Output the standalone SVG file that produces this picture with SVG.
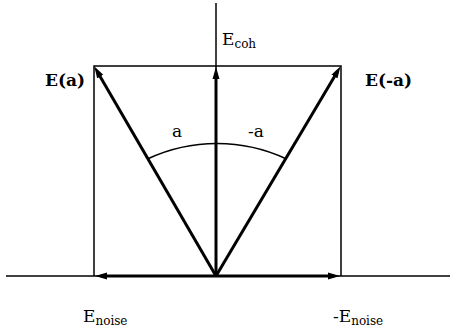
<svg xmlns="http://www.w3.org/2000/svg" width="450" height="333" viewBox="0 0 450 333">
<defs>
<style>
.thin{stroke:#000;stroke-width:1.5;fill:none}
.arr{stroke:#000;stroke-width:3;fill:none;marker-end:url(#ah)}
text{font-family:"DejaVu Serif",serif;font-size:17px;fill:#000}
.b{font-weight:bold}
.sub{font-size:12px}
</style>
<marker id="ah" markerUnits="userSpaceOnUse" markerWidth="12" markerHeight="8" refX="6" refY="3.5" orient="auto" viewBox="0 0 12 7">
<path d="M0,0 L12,3.5 L0,7 z" fill="#000"/>
</marker>
</defs>
<rect width="450" height="333" fill="#fff"/>
<g id="axes">
<line class="thin" x1="6" y1="276" x2="450" y2="276"/>
<line class="thin" x1="216" y1="3" x2="216" y2="276"/>
</g>
<g id="box">
<polyline class="thin" points="94,276 94,66 341,66 341,276"/>
</g>
<g id="connectors">
<line class="arr" x1="216" y1="276" x2="97.2" y2="71.4"/>
<line class="arr" x1="216" y1="276" x2="337.5" y2="71.4"/>
<line class="arr" x1="216" y1="276" x2="216" y2="73"/>
<line class="arr" x1="216" y1="276" x2="101" y2="276"/>
<line class="arr" x1="216" y1="276" x2="334" y2="276"/>
<path class="thin" d="M147.5,159 A164,164 0 0 1 286.5,159"/>
</g>
<g id="labels">
<text class="b" x="45" y="86">E(a)</text>
<text class="b" x="365" y="86">E(-a)</text>
<text x="222" y="45">E<tspan class="sub" dy="3">coh</tspan></text>
<text x="83" y="322">E<tspan class="sub" dy="3">noise</tspan></text>
<text x="333" y="322">-E<tspan class="sub" dy="3">noise</tspan></text>
<text x="172" y="137">a</text>
<text x="248" y="137">-a</text>
</g>
</svg>
